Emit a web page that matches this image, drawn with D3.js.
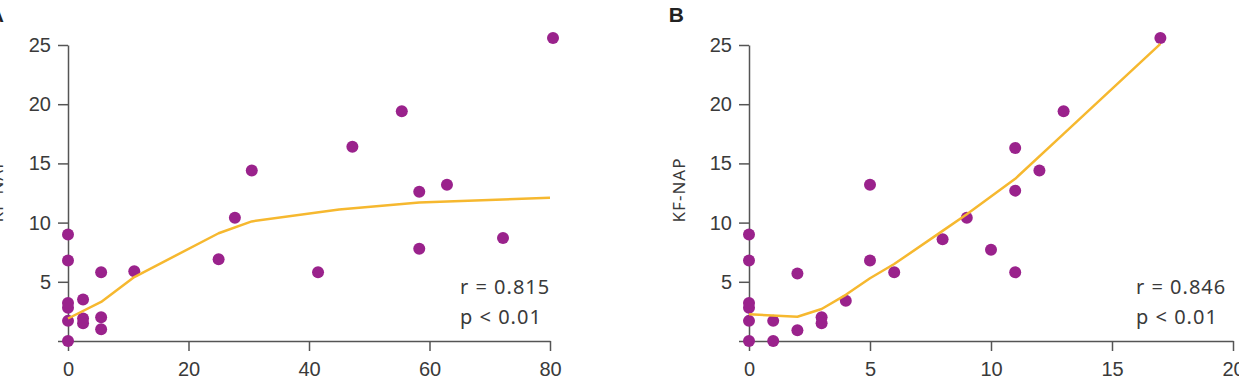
<!DOCTYPE html>
<html>
<head>
<meta charset="utf-8">
<script src="https://cdn.jsdelivr.net/npm/d3@7"></script>
<style>
  html, body { margin: 0; padding: 0; background: #fff; }
  svg { display: block; }
  .tick text { font-family: "Liberation Sans", Arial, sans-serif; font-size: 20px; fill: #3a3a3a; }
  .domain, .tick line { stroke: #555; stroke-width: 1.5; }
  .note { font-family: "Noto Sans", sans-serif; font-size: 20px; fill: #3a3a3a; letter-spacing: 1px; }
  .ylab { font-family: "Noto Sans", sans-serif; font-size: 17px; fill: #3a3a3a; letter-spacing: 1px; }
  .panel { font-family: "Liberation Sans", Arial, sans-serif; font-size: 21px; font-weight: bold; fill: #222; }
</style>
</head>
<body>
<svg id="chart" width="1239" height="387"></svg>
<script>
// ---- data ----
const yTicks = [5, 10, 15, 20, 25];

const panelAxTicks = [0, 20, 40, 60, 80];
const panelAx = [0, 0, 0, 0, 0, 0, 2.5, 2.5, 2.5, 5.5, 5.5, 5.5, 11, 25, 27.7, 30.5, 41.5, 47.2, 55.4, 58.3, 58.3, 62.9, 72.2, 80.5];
const panelAy = [0, 1.7, 2.8, 3.2, 6.8, 9.0, 3.5, 1.9, 1.5, 5.8, 2.0, 1.0, 5.9, 6.9, 10.4, 14.4, 5.8, 16.4, 19.4, 12.6, 7.8, 13.2, 8.7, 25.6];
const panelAfitX = [0, 5.5, 11, 25, 30.5, 45, 58.3, 80];
const panelAfitY = [1.9, 3.3, 5.4, 9.1, 10.1, 11.1, 11.7, 12.1];
const panelAstats = ["r = 0.815", "p < 0.01"];

const panelBxTicks = [0, 5, 10, 15, 20];
const panelBx = [0, 0, 0, 0, 0, 0, 1, 1, 2, 2, 3, 3, 4, 5, 5, 6, 8, 9, 10, 11, 11, 11, 12, 13, 17];
const panelBy = [0, 1.7, 2.8, 3.2, 6.8, 9.0, 0, 1.7, 0.9, 5.7, 2.0, 1.5, 3.4, 13.2, 6.8, 5.8, 8.6, 10.4, 7.7, 5.8, 12.7, 16.3, 14.4, 19.4, 25.6];
const panelBfitX = [0, 2, 3, 4, 5, 6, 8, 9, 11, 13, 17];
const panelBfitY = [2.25, 2.05, 2.7, 3.9, 5.3, 6.5, 9.3, 10.7, 13.7, 17.5, 25.1];
const panelBstats = ["r = 0.846", "p < 0.01"];

const yLabel = "KF-NAP";

// ---- drawing ----
const svg = d3.select("#chart");
const dotColor = "#9a228c";
const lineColor = "#f6b82f";

function drawPanel(opt) {
  const x = d3.scaleLinear().domain([0, opt.xMax]).range([opt.x0, opt.x1]);
  const y = d3.scaleLinear().domain([0, 25]).range([341, 45]);
  const g = svg.append("g");

  g.append("g")
    .attr("transform", `translate(0,${y(0)})`)
    .call(d3.axisBottom(x).tickValues(opt.xTicks).tickSize(10).tickSizeOuter(0).tickPadding(11));

  g.append("g")
    .attr("transform", `translate(${x(0)},0)`)
    .call(d3.axisLeft(y).tickValues([0].concat(yTicks)).tickFormat(d => d === 0 ? "" : d)
      .tickSize(10).tickSizeOuter(0).tickPadding(7));

  const pts = opt.xs.map((v, i) => [v, opt.ys[i]]);
  g.append("g").selectAll("circle").data(pts).join("circle")
    .attr("cx", d => x(d[0])).attr("cy", d => y(d[1])).attr("r", 6)
    .attr("fill", dotColor);

  const fit = opt.fx.map((v, i) => [v, opt.fy[i]]);
  g.append("path").datum(fit)
    .attr("fill", "none").attr("stroke", lineColor).attr("stroke-width", 2.5)
    .attr("stroke-linejoin", "round")
    .attr("d", d3.line().x(d => x(d[0])).y(d => y(d[1])));

  g.selectAll("text.note").data(opt.stats).join("text")
    .attr("class", "note")
    .attr("x", opt.noteX).attr("y", (d, i) => 294 + i * 30)
    .text(d => d);

  g.append("text").attr("class", "ylab")
    .attr("transform", `translate(${opt.labX},190) rotate(-90)`)
    .attr("text-anchor", "middle").text(yLabel);

  g.append("text").attr("class", "panel")
    .attr("x", opt.letterX).attr("y", 22).attr("text-anchor", "end").text(opt.letter);
}

drawPanel({ x0: 68, x1: 550, xMax: 80, xTicks: panelAxTicks, xs: panelAx, ys: panelAy,
  fx: panelAfitX, fy: panelAfitY, stats: panelAstats, noteX: 460, labX: 3, letter: "A", letterX: 4 });
drawPanel({ x0: 749, x1: 1233, xMax: 20, xTicks: panelBxTicks, xs: panelBx, ys: panelBy,
  fx: panelBfitX, fy: panelBfitY, stats: panelBstats, noteX: 1136, labX: 685, letter: "B", letterX: 684 });
</script>
</body>
</html>
